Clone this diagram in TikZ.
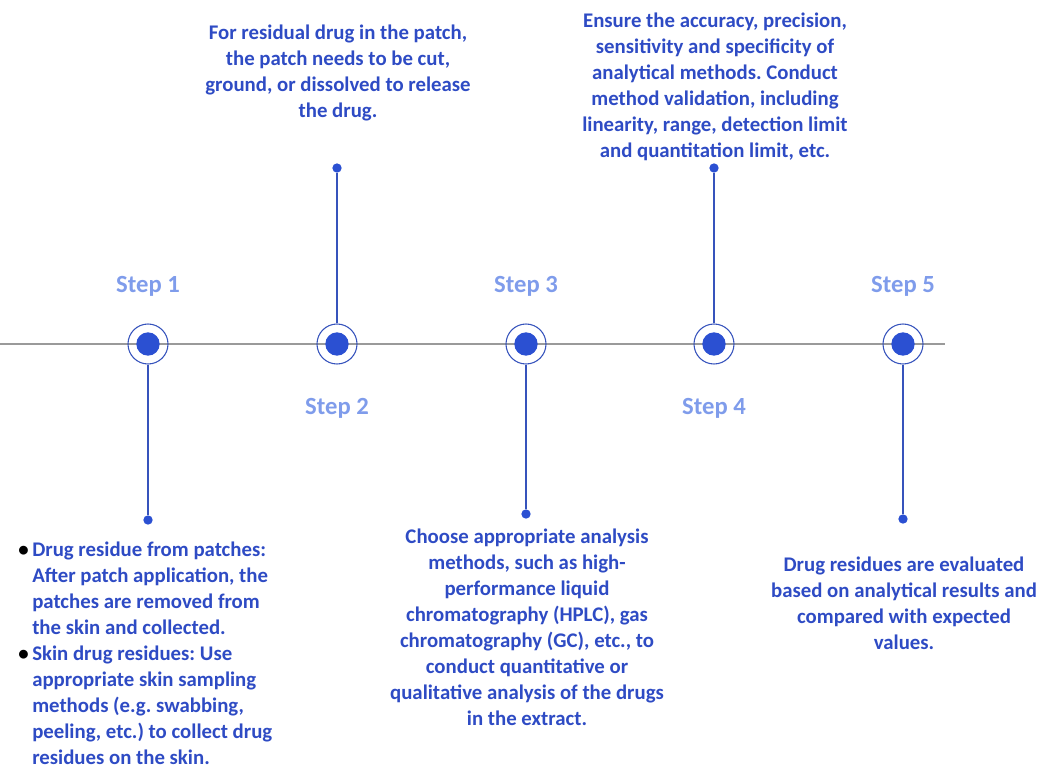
\documentclass[tikz,border=0pt]{standalone}
\usepackage{fontspec}
\setmainfont{Carlito}
\usepackage{xcolor}
\usetikzlibrary{positioning}
\definecolor{textblue}{HTML}{2E4BC4}
\definecolor{steplabel}{HTML}{7F9CEB}
\definecolor{dotblue}{HTML}{2B50D2}
\definecolor{ringblue}{HTML}{3653BC}
\definecolor{axisgray}{HTML}{9A9A9A}
\frenchspacing

\begin{document}
\begin{tikzpicture}[x=0.75pt, y=-0.75pt,
  ring/.style={circle, draw=ringblue, line width=0.8pt, minimum size=30pt, inner sep=0pt},
  core/.style={circle, fill=dotblue, minimum size=17.5pt, inner sep=0pt},
  tip/.style={circle, fill=dotblue, minimum size=7pt, inner sep=0pt},
  stem/.style={draw=ringblue, line width=0.9pt},
  steptext/.style={text=steplabel, font=\fontsize{18.5}{22}\selectfont\bfseries, anchor=base},
  info/.style={text=textblue, font=\fontsize{15.6}{19.5}\selectfont\bfseries, align=center, anchor=north, inner sep=0pt}]
\useasboundingbox (0,0) rectangle (1052,775);
% Zeitachse
\draw[axisgray, line width=1.9pt] (0,344) -- (945,344);
% Ringe mit Punkt
\node[ring] (s1) at (148,344) {};
\node[ring] (s2) at (337,344) {};
\node[ring] (s3) at (526,344) {};
\node[ring] (s4) at (714,344) {};
\node[ring] (s5) at (903,344) {};
\node[core] at (s1) {};
\node[core] at (s2) {};
\node[core] at (s3) {};
\node[core] at (s4) {};
\node[core] at (s5) {};
% Stiele nach oben bzw. unten
\node[tip] (t1) at (148,520) {};
\node[tip] (t2) at (337,168) {};
\node[tip] (t3) at (526,514) {};
\node[tip] (t4) at (714,168) {};
\node[tip] (t5) at (903,519) {};
\draw[stem] (s1) -- (t1);
\draw[stem] (s2) -- (t2);
\draw[stem] (s3) -- (t3);
\draw[stem] (s4) -- (t4);
\draw[stem] (s5) -- (t5);
% Beschriftung der Schritte
\node[steptext] (l1) at (148,292) {Step 1};
\node[steptext] (l2) at (337,414) {Step 2};
\node[steptext] (l3) at (526,292) {Step 3};
\node[steptext] (l4) at (714,414) {Step 4};
\node[steptext] (l5) at (903,292) {Step 5};
% Texte
\node[info] (x2) at (338,25) {For residual drug in the patch,\\the patch needs to be cut,\\ground, or dissolved to release\\the drug.};
\node[info] (x4) at (715,13) {Ensure the accuracy, precision,\\sensitivity and specificity of\\analytical methods. Conduct\\method validation, including\\linearity, range, detection limit\\and quantitation limit, etc.};
\node[info, align=left, anchor=north west] (x1) at (32,542) {\llap{\textcolor{black}{\textbullet}\,}Drug residue from patches:\\After patch application, the\\patches are removed from\\the skin and collected.\\\llap{\textcolor{black}{\textbullet}\,}Skin drug residues: Use\\appropriate skin sampling\\methods (e.g. swabbing,\\peeling, etc.) to collect drug\\residues on the skin.};
\node[info] (x3) at (527,529) {Choose appropriate analysis\\methods, such as high-\\performance liquid\\chromatography (HPLC), gas\\chromatography (GC), etc., to\\conduct quantitative or\\qualitative analysis of the drugs\\in the extract.};
\node[info] (x5) at (904,557) {Drug residues are evaluated\\based on analytical results and\\compared with expected\\values.};
\end{tikzpicture}
\end{document}
